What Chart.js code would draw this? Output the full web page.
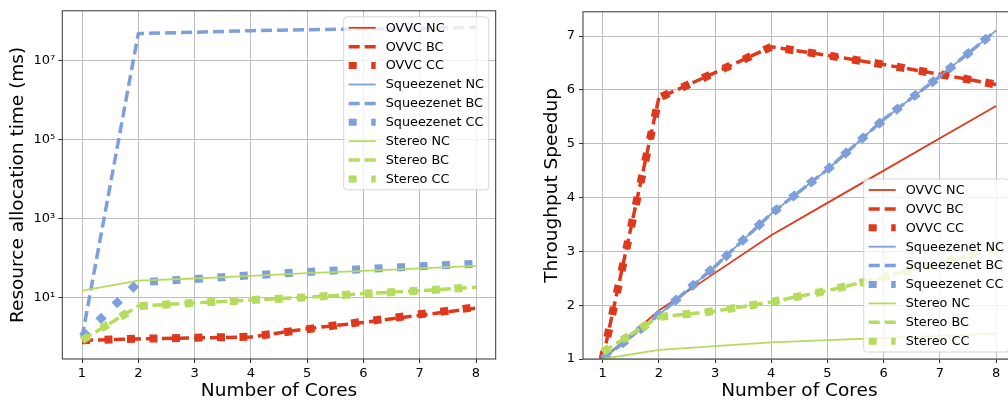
<!DOCTYPE html>
<html>
<head>
<meta charset="utf-8">
<script src="https://cdn.jsdelivr.net/npm/chart.js@4.4.1/dist/chart.umd.min.js"></script>
<style>
  html, body { margin: 0; padding: 0; background: #fff; overflow: hidden; width: 1008px; height: 406px; }
  #left { position: absolute; left: 0; top: 0; }
  #right { position: absolute; left: 504px; top: 0; }
</style>
</head>
<body>
<canvas id="left" width="504" height="406"></canvas>
<canvas id="right" width="520" height="406"></canvas>
<script>
const cores = [1, 2, 3, 4, 5, 6, 7, 8];
const xTicks = [1, 2, 3, 4, 5, 6, 7, 8];
const allocTicks = [10, 1000, 1e5, 1e7];
const allocTickLabels = ['10¹', '10³', '10⁵', '10⁷'];
const speedTicks = [1, 2, 3, 4, 5, 6, 7];

const labels = ['OVVC NC', 'OVVC BC', 'OVVC CC', 'Squeezenet NC', 'Squeezenet BC', 'Squeezenet CC',
  'Stereo NC', 'Stereo BC', 'Stereo CC'];

// resource allocation time (ms), left plot
const allocOvvcNC = [null, null, null, null, null, null, null, null];
const allocOvvcBC = [0.81, 0.88, 0.93, 0.98, 1.6, 2.3, 3.5, 5.3];
const allocOvvcCC = [0.81, 0.89, 0.94, 1.0, 1.55, 2.4, 3.7, 5.6];
const allocSqueezeNC = [null, null, null, null, null, null, null, null];
const allocSqueezeBC = [0.95, 4.9e7, 5.3e7, 5.8e7, 6.1e7, 6.4e7, 6.7e7, 7.0e7];
const allocSqueezeCC = [1.0, 24, 29, 36, 44, 52, 61, 71];
const allocStereoNC = [14.7, 26.5, 30, 35, 41, 47, 54, 63];
const allocStereoBC = [0.81, 6.0, 7.2, 8.5, 10, 12.4, 14.7, 18];
const allocStereoCC = [0.81, 6.0, 7.2, 8.5, 10, 12.4, 14.7, 18];

// throughput speedup, right plot
const speedOvvcNC = [1, 1.9, 2.6, 3.3, 3.9, 4.5, 5.1, 5.7];
const speedOvvcBC = [1, 5.85, 6.32, 6.8, 6.64, 6.47, 6.29, 6.1];
const speedOvvcCC = [1, 5.85, 6.32, 6.8, 6.64, 6.47, 6.29, 6.1];
const speedSqueezeNC = [1.0, 1.82, 2.72, 3.7, 4.52, 5.45, 6.25, 7.1];
const speedSqueezeBC = [1.0, 1.82, 2.72, 3.7, 4.52, 5.45, 6.25, 7.1];
const speedSqueezeCC = [1.0, 1.82, 2.72, 3.7, 4.52, 5.45, 6.25, 7.1];
const speedStereoNC = [1, 1.17, 1.24, 1.31, 1.35, 1.39, 1.43, 1.47];
const speedStereoBC = [1.13, 1.78, 1.89, 2.06, 2.27, 2.52, 2.78, 3.05];
const speedStereoCC = [1.13, 1.78, 1.89, 2.06, 2.27, 2.52, 2.78, 3.05];

const RED = '#e0381c', BLUE = '#7d9fdb', GREEN = '#b5dc5c';
const colors = [RED, RED, RED, BLUE, BLUE, BLUE, GREEN, GREEN, GREEN];
const FONT = "'DejaVu Sans', sans-serif";

// NC solid, BC dashed, CC thick dotted
const styles = [
  { width: 1.8, dash: [] },
  { width: 3.5, dash: [11, 5] },
  { width: 8, dash: [8, 14.5] }
];

function makeDatasets(series) {
  return series.map((vals, i) => {
    const st = styles[i % 3];
    return {
      label: labels[i],
      data: cores.map((c, j) => ({ x: c, y: vals[j] })),
      borderColor: colors[i],
      backgroundColor: colors[i],
      borderWidth: st.width,
      borderDash: st.dash,
      borderCapStyle: 'butt',
      borderJoinStyle: 'round',
      pointRadius: 0,
      tension: 0,
      fill: false,
      order: series.length - i
    };
  });
}

const framePlugin = {
  id: 'frameAndLegend',
  afterDatasetsDraw(chart, args, opts) {
    const ctx = chart.ctx;
    const a = chart.chartArea;
    ctx.save();
    ctx.strokeStyle = '#333';
    ctx.lineWidth = 1;
    ctx.setLineDash([]);
    ctx.strokeRect(a.left, a.top, a.right - a.left, a.bottom - a.top);

    // legend box
    const w = 145, h = 173, rowH = 18.9;
    const x0 = a.right - 7 - w;
    const y0 = opts.where === 'top' ? a.top + 6 : a.bottom - 7 - h;
    ctx.beginPath();
    ctx.roundRect(x0, y0, w, h, 3);
    ctx.fillStyle = 'rgba(255,255,255,0.8)';
    ctx.fill();
    ctx.strokeStyle = 'rgba(204,204,204,0.8)';
    ctx.lineWidth = 1;
    ctx.stroke();

    ctx.font = '12.8px ' + FONT;
    ctx.textBaseline = 'middle';
    ctx.textAlign = 'left';
    chart.data.datasets.forEach((ds, i) => {
      const yy = y0 + 11 + i * rowH;
      ctx.beginPath();
      ctx.setLineDash(ds.borderDash);
      ctx.lineDashOffset = 0;
      ctx.lineCap = 'butt';
      ctx.lineWidth = Math.min(ds.borderWidth, 7);
      ctx.strokeStyle = ds.borderColor;
      ctx.moveTo(x0 + 5, yy);
      ctx.lineTo(x0 + 32, yy);
      ctx.stroke();
      ctx.setLineDash([]);
      ctx.fillStyle = '#000';
      ctx.fillText(ds.label, x0 + 42, yy + 0.5);
    });
    ctx.restore();
  }
};

function xScale() {
  return {
    type: 'linear',
    min: 0.65,
    max: 8.35,
    afterBuildTicks: s => { s.ticks = xTicks.map(v => ({ value: v })); },
    afterFit: s => { s.height = 47; },
    grid: { color: '#bdbdbd', lineWidth: 1, tickColor: '#333', tickLength: 4 },
    border: { display: false },
    ticks: { color: '#000', font: { family: FONT, size: 13 }, padding: 3, maxRotation: 0 },
    title: { display: true, text: 'Number of Cores', color: '#000',
      font: { family: FONT, size: 18.5 }, padding: { top: 0, bottom: 4 } }
  };
}

new Chart(document.getElementById('left'), {
  type: 'line',
  data: { datasets: makeDatasets([allocOvvcNC, allocOvvcBC, allocOvvcCC, allocSqueezeNC, allocSqueezeBC,
    allocSqueezeCC, allocStereoNC, allocStereoBC, allocStereoCC]) },
  options: {
    responsive: false,
    animation: false,
    devicePixelRatio: 1,
    layout: { padding: { left: 0, right: 8.3, top: 4, bottom: 0 } },
    plugins: { legend: { display: false }, tooltip: { enabled: false }, frameAndLegend: { where: 'top' } },
    scales: {
      x: xScale(),
      y: {
        type: 'logarithmic',
        min: 0.272,
        max: 1.85e8,
        afterBuildTicks: s => { s.ticks = allocTicks.map(v => ({ value: v })); },
        afterFit: s => { s.width = 62.3; },
        grid: { color: '#bdbdbd', lineWidth: 1, tickColor: '#333', tickLength: 4 },
        border: { display: false },
        ticks: { color: '#000', font: { family: FONT, size: 13 }, padding: 3,
          callback: (v, i) => allocTickLabels[i] },
        title: { display: true, text: 'Resource allocation time (ms)', color: '#000',
          font: { family: FONT, size: 18.5 }, padding: { top: 7, bottom: 0 } }
      }
    }
  },
  plugins: [framePlugin]
});

new Chart(document.getElementById('right'), {
  type: 'line',
  data: { datasets: makeDatasets([speedOvvcNC, speedOvvcBC, speedOvvcCC, speedSqueezeNC, speedSqueezeBC,
    speedSqueezeCC, speedStereoNC, speedStereoBC, speedStereoCC]) },
  options: {
    responsive: false,
    animation: false,
    devicePixelRatio: 1,
    layout: { padding: { left: 0, right: 8.3, top: 4, bottom: 0 } },
    plugins: { legend: { display: false }, tooltip: { enabled: false }, frameAndLegend: { where: 'bottom' } },
    scales: {
      x: xScale(),
      y: {
        type: 'linear',
        min: 1,
        max: 7.45,
        afterBuildTicks: s => { s.ticks = speedTicks.map(v => ({ value: v })); },
        afterFit: s => { s.width = 79; },
        grid: { color: '#bdbdbd', lineWidth: 1, tickColor: '#333', tickLength: 4 },
        border: { display: false },
        ticks: { color: '#000', font: { family: FONT, size: 13 }, padding: 4 },
        title: { display: true, text: 'Throughput Speedup', color: '#000',
          font: { family: FONT, size: 18.5 }, padding: { top: 37, bottom: 0 } }
      }
    }
  },
  plugins: [framePlugin]
});
</script>
</body>
</html>
